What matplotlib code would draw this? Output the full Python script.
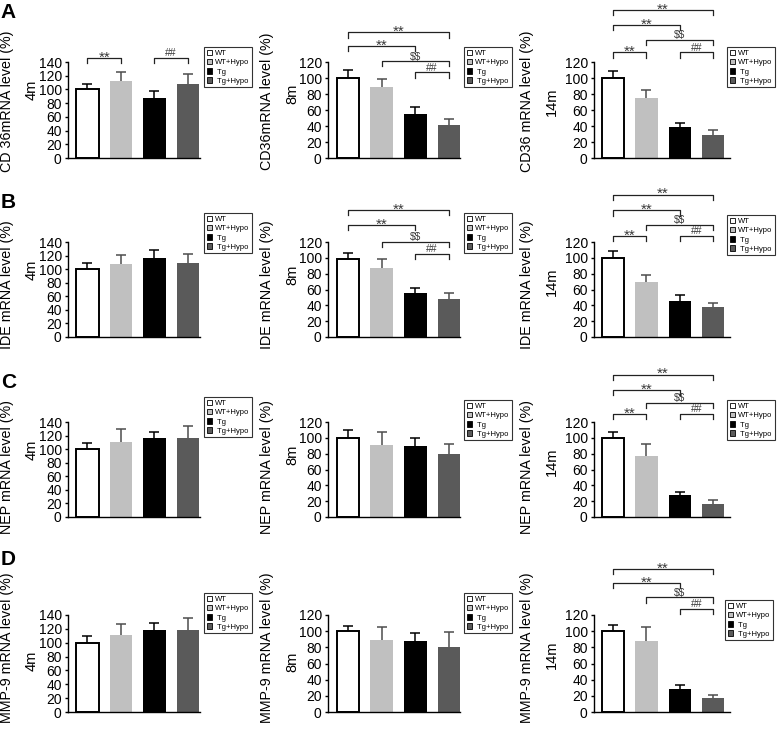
import numpy as np
import matplotlib
matplotlib.use('Agg')
import matplotlib.pyplot as plt
from matplotlib.patches import Patch

plt.rcParams['font.family'] = ['Liberation Sans', 'DejaVu Sans']
plt.rcParams['text.parse_math'] = False

groups = ['WT', 'WT+Hypo', ' Tg', ' Tg+Hypo']
ages = ['4m', '8m', '14m']
bar_colors = ['white', '#c0c0c0', 'black', '#5a5a5a']
err_colors = ['black', '#4d4d4d', 'black', '#4d4d4d']

ylabels = [
    ['CD 36mRNA level (%)', 'CD36mRNA level (%)', 'CD36 mRNA level (%)'],
    ['IDE mRNA level (%)'] * 3,
    ['NEP mRNA level (%)'] * 3,
    ['MMP-9 mRNA level (%)'] * 3,
]

# mean values (%) and error, one list per age
cd36_mean = [[100, 112, 87, 108], [100, 89, 55, 41], [100, 75, 39, 29]]
cd36_err = [[8, 13, 10, 14], [10, 10, 9, 8], [9, 10, 5, 6]]
ide_mean = [[100, 107, 117, 109], [98, 87, 56, 48], [100, 69, 46, 38]]
ide_err = [[9, 14, 11, 13], [8, 12, 6, 7], [9, 9, 7, 5]]
nep_mean = [[100, 110, 116, 116], [100, 91, 90, 80], [100, 77, 28, 17]]
nep_err = [[9, 19, 10, 18], [10, 16, 10, 12], [7, 15, 4, 4]]
mmp9_mean = [[100, 111, 118, 119], [100, 89, 88, 80], [100, 88, 29, 17]]
mmp9_err = [[9, 16, 11, 17], [7, 16, 10, 19], [8, 17, 4, 4]]

means = [cd36_mean, ide_mean, nep_mean, mmp9_mean]
errs = [cd36_err, ide_err, nep_err, mmp9_err]

# significance brackets: (bar i, bar j, height, mark)
brackets = [
    [[(0, 1, 146, '**'), (2, 3, 146, '##')],
     [(0, 3, 157, '**'), (0, 2, 140, '**'), (1, 3, 121, '$$'), (2, 3, 107, '##')],
     [(0, 3, 185, '**'), (0, 2, 166, '**'), (1, 3, 148, '$$'), (0, 1, 132, '**'), (2, 3, 132, '##')]],
    [[],
     [(0, 3, 161, '**'), (0, 2, 142, '**'), (1, 3, 120, '$$'), (2, 3, 105, '##')],
     [(0, 3, 180, '**'), (0, 2, 160, '**'), (1, 3, 142, '$$'), (0, 1, 128, '**'), (2, 3, 128, '##')]],
    [[], [],
     [(0, 3, 180, '**'), (0, 2, 161, '**'), (1, 3, 144, '$$'), (0, 1, 130, '**'), (2, 3, 130, '##')]],
    [[], [],
     [(0, 3, 177, '**'), (0, 2, 160, '**'), (1, 3, 142, '$$'), (2, 3, 128, '##')]],
]

W, H = 777, 731
fig = plt.figure(figsize=(W / 100, H / 100), dpi=100)

# layout in pixels
col_left = [68, 328, 594]
col_width = [132, 132, 136]
col_xlim = [(-0.58, 3.36), (-0.6, 3.33), (-0.57, 3.51)]
row_top = [62, 242, 422, 615]
row_bot = [158, 337, 517, 712]
legend_xy = [[(204, 47), (464, 47), (727, 47)],
             [(204, 213), (464, 213), (727, 215)],
             [(204, 397), (464, 400), (727, 400)],
             [(204, 593), (464, 593), (725, 600)]]
label_px = [6.8, 266.5, 526.5]
age_px = [31.5, 292, 552]
label_cy = [101, 285, 467, 648]
age_cy = [[90, 94, 102], [270, 275, 282], [450, 455, 462], [661, 662, 655]]
letter_y = [3, 193, 373, 550]

x = np.arange(4)
for r in range(4):
    fig.text(0.001, 1 - letter_y[r] / H, 'ABCD'[r], fontsize=15,
             fontweight='bold', ha='left', va='top')
    for c in range(3):
        left, wid = col_left[c], col_width[c]
        top, bot = row_top[r], row_bot[r]
        ax = fig.add_axes([left / W, 1 - bot / H, wid / W, (bot - top) / H])
        ymax = 140 if c == 0 else 120
        vals = means[r][c]
        ev = errs[r][c]

        ax.bar(x, vals, width=0.67, color=bar_colors,
               edgecolor=['black', 'none', 'none', 'none'],
               linewidth=[1.4, 0, 0, 0], zorder=2)
        for i in range(4):
            eb = ax.errorbar(x[i], vals[i], yerr=[[0], [ev[i]]], fmt='none',
                             ecolor=err_colors[i], elinewidth=1.1,
                             capsize=3.6, capthick=1.1, zorder=3)
            eb[1][0].set_visible(False)

        d = 0.055 * ymax
        for i, j, y, txt in brackets[r][c]:
            ax.plot([i, i, j, j], [y - d, y, y, y - d], color='#222222',
                    lw=0.9, clip_on=False)
            if txt == '**':
                ax.annotate(txt, xy=((i + j) / 2, y), xytext=(0, -2.7),
                            textcoords='offset points', ha='center',
                            va='baseline', fontsize=11, color='#3a3a3a',
                            annotation_clip=False)
            else:
                ax.annotate(txt, xy=((i + j) / 2, y), xytext=(0, 1.2),
                            textcoords='offset points', ha='center',
                            va='baseline', fontsize=7.5, color='#3a3a3a',
                            annotation_clip=False)

        ax.set_xlim(*col_xlim[c])
        ax.set_ylim(0, ymax)
        ax.set_yticks(np.arange(0, ymax + 1, 20))
        ax.set_xticks([])
        ax.spines['top'].set_visible(False)
        ax.spines['right'].set_visible(False)
        ax.spines['left'].set_linewidth(1)
        ax.spines['bottom'].set_linewidth(1)
        ax.tick_params(axis='y', labelsize=10, length=2.5, width=1, pad=2)

        ax.set_ylabel(ylabels[r][c], fontsize=10.3, va='center')
        ax.yaxis.set_label_coords((label_px[c] - left) / wid,
                                  (bot - label_cy[r]) / (bot - top))
        fig.text(age_px[c] / W, 1 - age_cy[r][c] / H, ages[c], fontsize=10.5,
                 rotation=90, ha='center', va='center', rotation_mode='anchor')

        handles = [Patch(facecolor=bar_colors[k], edgecolor='black',
                         linewidth=0.6) for k in range(4)]
        lx, ly = legend_xy[r][c]
        leg = ax.legend(handles, groups, loc='upper left',
                        bbox_to_anchor=(lx / W, 1 - ly / H),
                        bbox_transform=fig.transFigure, fontsize=5.5,
                        frameon=True, fancybox=False, edgecolor='black',
                        borderpad=0.35, labelspacing=0.25, handlelength=0.7,
                        handleheight=0.7, handletextpad=0.4, borderaxespad=0)
        leg.get_frame().set_linewidth(0.8)

fig.savefig('out.png', dpi=100)
